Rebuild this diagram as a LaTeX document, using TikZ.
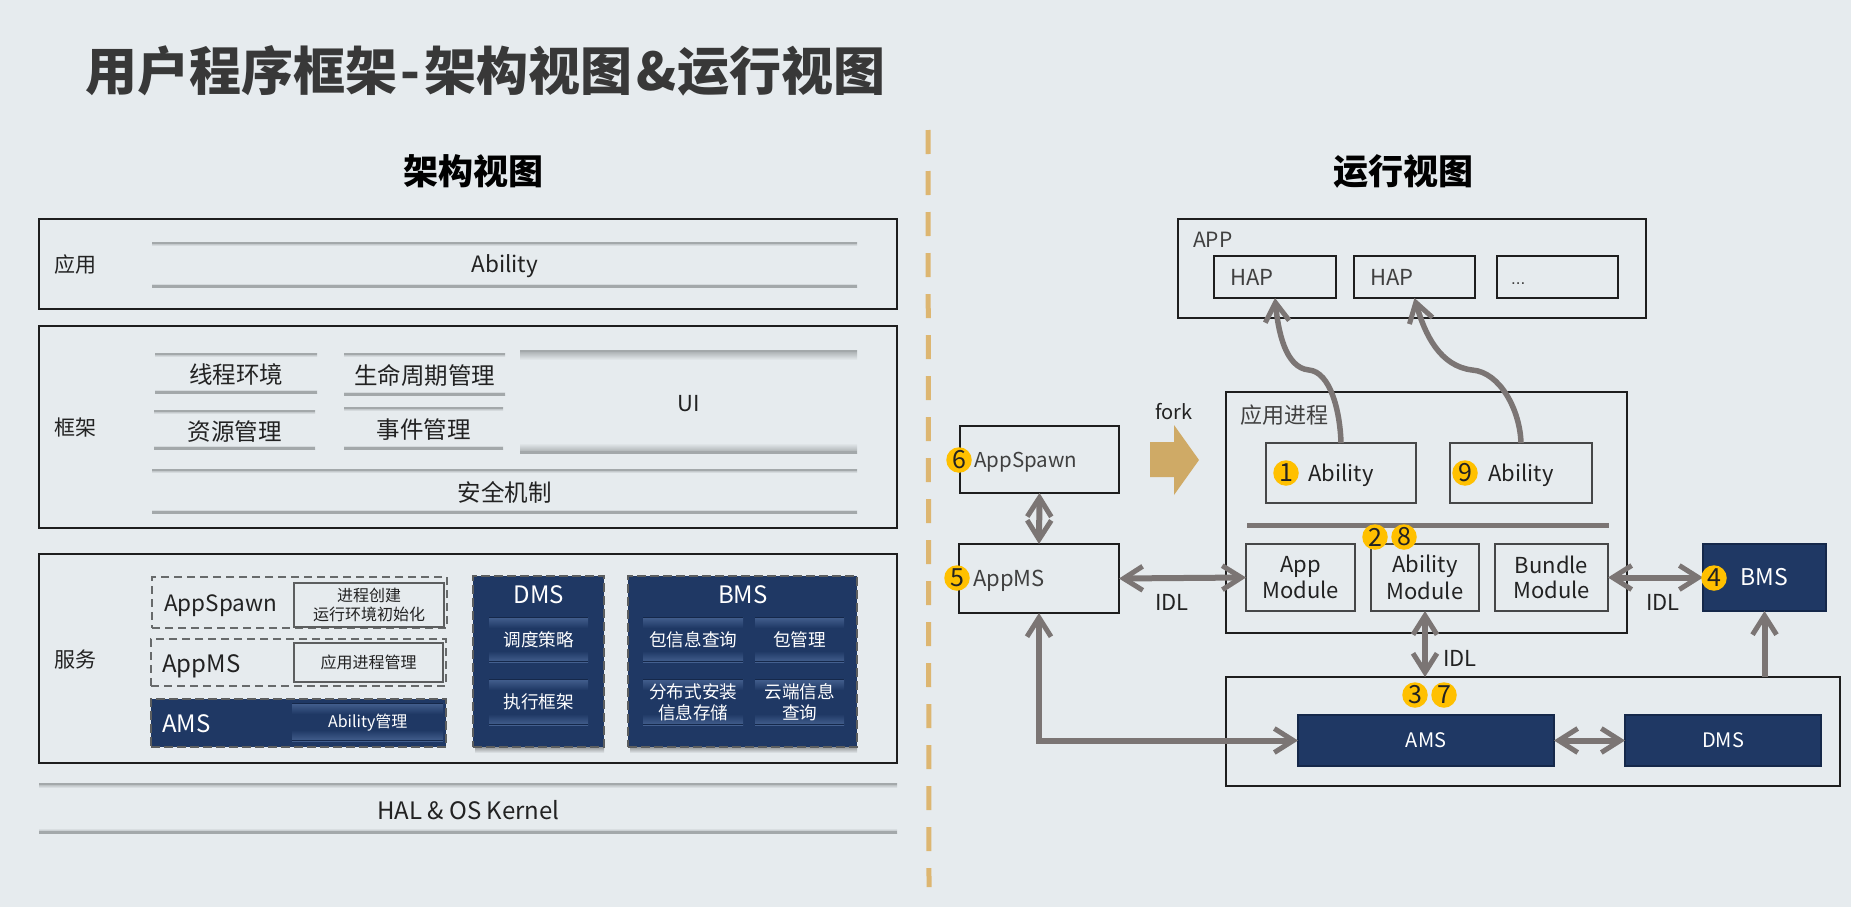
\documentclass[tikz,border=0pt]{standalone}
\usepackage{fontspec}
\setmainfont{Noto Sans CJK SC}
\newfontfamily\dotsfont{Liberation Sans}
\usetikzlibrary{arrows.meta}
\definecolor{bgc}{HTML}{E6EBEE}
\definecolor{navyc}{HTML}{1F3864}
\definecolor{navyl}{HTML}{44608F}
\definecolor{navyd}{HTML}{15284A}
\definecolor{arrc}{HTML}{7B7574}
\definecolor{goldc}{HTML}{FFC000}
\definecolor{forkc}{HTML}{CFAA66}
\definecolor{divc}{HTML}{DDB671}
\definecolor{linec}{HTML}{A3A8AA}
\definecolor{framec}{HTML}{1E1E1E}
\definecolor{textc}{HTML}{222222}
\newcommand{\fs}[1]{\fontsize{#1pt}{#1pt}\selectfont}
\tikzset{
  every node/.style={text=textc},
  frame/.style={draw=framec,line width=1.7pt},
  thin frame/.style={draw=framec!80!bgc,line width=1.4pt},
  gray frame/.style={draw=black!60!bgc,line width=2.4pt,fill=bgc},
  navy box/.style={fill=navyc,draw=navyd,line width=1.5pt,text=white},
  dash box/.style={draw=black!55!bgc,line width=2pt,dash pattern=on 8pt off 5pt},
  dash navy/.style={fill=navyc,draw=black!60!bgc,line width=2.4pt,dash pattern=on 9pt off 4pt},
  badge/.style={circle,fill=goldc,minimum size=25.5pt,inner sep=0pt,font=\fs{25},text=textc},
  tag/.style={font=\fs{22},inner sep=0pt,yshift=-2pt},
  conn/.style={draw=arrc,line width=6pt,
    arrows={Straight Barb[length=19pt,width=24pt,line width=5pt]-Straight Barb[length=19pt,width=24pt,line width=5pt]}},
  conn1/.style={draw=arrc,line width=6pt,
    arrows={-Straight Barb[length=19pt,width=24pt,line width=5pt]}},
}
% box: [style]{name}{x1}{y1}{x2}{y2}{text}
\newcommand{\bx}[7][]{%
  \pgfmathsetmacro\bxw{#5-#3}\pgfmathsetmacro\bxh{#6-#4}%
  \node[anchor=north west,minimum width=\bxw pt,minimum height=\bxh pt,inner sep=0pt,outer sep=0pt,align=center,#1] (#2) at (#3,#4) {#7};}
% band on the light ground: fade length, corners, text
\newcommand{\band}[7][]{%
  \def\bf{#2}\pgfmathsetmacro\yy{#4+\bf}\pgfmathsetmacro\zz{#6-\bf}%
  \shade[top color=linec,bottom color=bgc,draw=none] (#3,#4) rectangle (#5,\yy);
  \shade[top color=bgc,bottom color=linec,draw=none] (#3,\zz) rectangle (#5,#6);
  \fill[linec] (#3,#4) rectangle (#5,#4+2);
  \fill[linec] (#3,#6-2) rectangle (#5,#6);
  \pgfmathsetmacro\bxw{#5-#3}\pgfmathsetmacro\bxh{#6-#4}%
  \node[anchor=north west,minimum width=\bxw pt,minimum height=\bxh pt,inner sep=0pt,align=center,font=\fs{23.5},yshift=-1.5pt,#1] at (#3,#4) {#7};}
% band on navy
\newcommand{\darkband}[6][]{%
  \pgfmathsetmacro\yy{#3+11}\pgfmathsetmacro\zz{#5-11}%
  \shade[top color=navyl,bottom color=navyc,draw=none] (#2,#3) rectangle (#4,\yy);
  \shade[top color=navyc,bottom color=navyl,draw=none] (#2,\zz) rectangle (#4,#5);
  \fill[navyd] (#2,#3) rectangle (#4,#3+1.2);
  \fill[navyd] (#2,#5-1.2) rectangle (#4,#5);
  \pgfmathsetmacro\bxw{#4-#2}\pgfmathsetmacro\bxh{#5-#3}%
  \node[anchor=north west,minimum width=\bxw pt,minimum height=\bxh pt,inner sep=0pt,align=center,text=white,font=\fs{17.6},#1] at (#2,#3) {#6};}
\begin{document}
\begin{tikzpicture}[x=1pt,y=-1pt]
\useasboundingbox (0,0) rectangle (1851,907);
\fill[bgc] (0,0) rectangle (1851,907);
% titles
\node[anchor=west,inner sep=0pt,font=\fs{52}\bfseries,text=black!78] (title) at (85,71) {用户程序框架\hspace{3pt}-\hspace{4pt}架构视图\hspace{4pt}\&\hspace{1pt}运行视图};
\node[inner sep=0pt,font=\fs{35}\bfseries,text=black] (sub1) at (473,171) {架构视图};
\node[inner sep=0pt,font=\fs{35}\bfseries,text=black] (sub2) at (1403,171) {运行视图};
% divider
\coordinate (divA) at (928,130);
\coordinate (divB) at (929,887);
\draw[divc,line width=5pt,dash pattern=on 24pt off 17pt] (divA) -- (divB);
% left column
\bx[frame]{fApp}{39}{219}{897}{309}{}
\bx[frame]{fFw}{39}{326}{897}{528}{}
\bx[frame]{fSrv}{39}{554}{897}{763}{}
\node[font=\fs{21},inner sep=0pt] (lApp) at (75,265) {应用};
\node[font=\fs{21},inner sep=0pt] (lFw) at (75,428) {框架};
\node[font=\fs{21},inner sep=0pt] (lSrv) at (75,660) {服务};
\band[font=\fs{22.5}]{4}{152}{242}{857}{287}{Ability}
\band{4}{155}{353}{317}{393}{线程环境}
\band{4}{344}{353}{505}{395}{生命周期管理}
\band{4}{154}{410}{315}{449}{资源管理}
\band{4}{344}{407}{503}{449}{事件管理}
\band[font=\fs{22}]{10}{520}{350}{857}{453}{UI}
\band{4}{152}{469}{857}{513}{安全机制}
\band[font=\fs{24}]{5}{39}{783}{897}{833}{HAL \& OS Kernel}
% services
\bx[dash box]{dSpawn}{152}{577}{447}{628}{}
\bx[dash box]{dAppMS}{151}{639}{446}{686}{}
\bx[dash navy]{dAMS}{151}{699}{446}{747}{}
\node[anchor=west,font=\fs{22.5},inner sep=0pt,yshift=-3pt] (tSpawn) at (164,603) {AppSpawn};
\node[anchor=west,font=\fs{24},inner sep=0pt,yshift=-3pt] (tAppMS) at (162,663) {AppMS};
\node[anchor=west,font=\fs{24},inner sep=0pt,text=white,yshift=-1pt] (tAMS) at (162,723) {AMS};
\bx[gray frame,font=\fs{16}]{iSpawn}{294}{583}{444}{627}{进程创建\\[3pt]运行环境初始化}
\bx[gray frame,font=\fs{16}]{iAppMS}{294}{643}{443}{682}{应用进程管理}
\darkband[font=\fs{16}]{292}{703}{443}{741}{Ability管理}
% shadows
\shade[top color=black!35!bgc,bottom color=bgc,draw=none] (475,747) rectangle (604,753);
\shade[top color=black!35!bgc,bottom color=bgc,draw=none] (630,747) rectangle (857,753);
\bx[dash navy]{bDMS}{473}{576}{604}{747}{}
\bx[dash navy]{bBMS}{628}{576}{857}{747}{}
\node[font=\fs{24},inner sep=0pt,text=white,yshift=-1pt] (tDMS) at (539,594) {DMS};
\node[font=\fs{24},inner sep=0pt,text=white,yshift=-1pt] (tBMS) at (743,594) {BMS};
\darkband{489}{617}{588}{662}{调度策略}
\darkband{489}{679}{588}{725}{执行框架}
\darkband{643}{617}{743}{662}{包信息查询}
\darkband{755}{617}{844}{662}{包管理}
\darkband{643}{679}{743}{725}{分布式安装\\[3pt]信息存储}
\darkband{755}{679}{844}{725}{云端信息\\[3pt]查询}
% right column
\bx[frame]{fAPP}{1178}{219}{1646}{318}{}
\node[tag,anchor=west,text=black!75,font=\fs{21}] (tAPP) at (1193,238) {APP};
\bx[frame]{hap1}{1214}{256}{1336}{298}{}
\bx[frame]{hap2}{1354}{256}{1475}{298}{}
\bx[frame]{hap3}{1497}{256}{1618}{298}{}
\node[tag,anchor=west,text=black!75] (tH1) at (1230,275) {HAP};
\node[tag,anchor=west,text=black!75] (tH2) at (1370,275) {HAP};
\node[anchor=base west,inner sep=0pt,font=\dotsfont\fs{17},text=black!75] (tH3) at (1511,284) {...};
\bx[frame]{fProc}{1226}{392}{1627}{633}{}
\node[tag,anchor=west,text=black!75] (tProc) at (1240,413) {应用进程};
\bx[thin frame]{ab1}{1266}{443}{1416}{503}{}
\bx[thin frame]{ab2}{1450}{443}{1592}{503}{}
\node[tag] (tAb1) at (1341,473) {Ability};
\node[tag] (tAb2) at (1521,473) {Ability};
\coordinate (sepA) at (1247,525);
\coordinate (sepB) at (1609,525);
\draw[arrc,line width=5pt] (sepA) -- (sepB);
\bx[thin frame,font=\fs{22}]{mApp}{1246}{544}{1355}{611}{App\\[3pt]Module}
\bx[thin frame,font=\fs{22}]{mAb}{1371}{544}{1479}{611}{Ability\\[3pt]Module}
\bx[thin frame,font=\fs{22}]{mBu}{1495}{544}{1608}{611}{Bundle\\[3pt]Module}
\bx[frame]{rSpawn}{960}{426}{1119}{493}{}
\bx[frame]{rAppMS}{959}{544}{1119}{613}{}
\node[anchor=west,font=\fs{20.5},inner sep=0pt,yshift=-2.5pt,text=black!75] (tS) at (974,460) {AppSpawn};
\node[tag,anchor=west,text=black!75] (tM) at (973,579) {AppMS};
\bx[navy box,font=\fs{23}]{rBMS}{1703}{544}{1826}{611}{\color{white}BMS}
\bx[frame]{fBot}{1226}{677}{1840}{786}{}
\bx[navy box,font=\fs{20}]{rAMS}{1298}{715}{1554}{766}{\color{white}AMS}
\bx[navy box,font=\fs{20}]{rDMS}{1625}{715}{1821}{766}{\color{white}DMS}
% fork
\node[font=\fs{20},inner sep=0pt] (tFork) at (1174,412) {fork};
\fill[forkc] (1150,442) -- (1174,442) -- (1174,425) -- (1199,460) -- (1174,495) -- (1174,477) -- (1150,477) -- cycle;
% connectors
\draw[conn] (rSpawn.south) -- (rAppMS.north);
\draw[conn] (rAppMS.east) -- (mApp.west);
\draw[conn] (mBu.east) -- (rBMS.west);
\draw[conn] (mAb.south) -- (fBot.north -| mAb.south);
\draw[conn] (rAppMS.south) |- (rAMS.west);
\draw[conn] (rAMS.east) -- (rDMS.west);
\draw[conn1] (fBot.north -| rBMS.south) -- (rBMS.south);
\draw[conn1,line width=5.5pt] (ab1.north) .. controls (1340,410) and (1330,372) .. (1309,370) .. controls (1285,368) and (1278,330) .. (hap1.south);
\draw[conn1,line width=5.5pt] (ab2.north) .. controls (1520,410) and (1500,372) .. (1472,370) .. controls (1440,366) and (1425,335) .. (hap2.south);
\node[font=\fs{22},inner sep=0pt] (idl1) at (1172,602) {IDL};
\node[font=\fs{22},inner sep=0pt] (idl2) at (1663,602) {IDL};
\node[font=\fs{22},inner sep=0pt] (idl3) at (1460,658) {IDL};
% badges
\node[badge] (b1) at (1286,473) {1};
\node[badge] (b9) at (1465,473) {9};
\node[badge] (b6) at (959,460) {6};
\node[badge] (b2) at (1375,537) {2};
\node[badge] (b8) at (1404,537) {8};
\node[badge] (b5) at (957,578) {5};
\node[badge] (b4) at (1714,578) {4};
\node[badge] (b3) at (1415,695) {3};
\node[badge] (b7) at (1444,695) {7};
\end{tikzpicture}
\end{document}
